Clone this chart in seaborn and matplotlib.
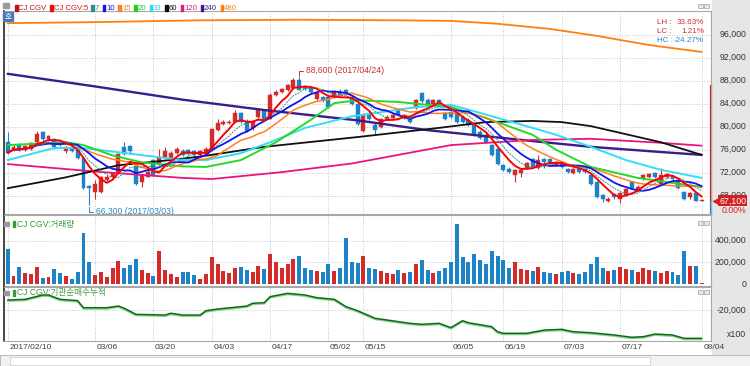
import numpy as np
import pandas as pd
import matplotlib
matplotlib.use("Agg")
import matplotlib.pyplot as plt
import seaborn as sns
from matplotlib.patches import Rectangle
from matplotlib.transforms import ScaledTranslation, offset_copy

# daily candles, 2017/02/10 .. 2017/08/04 (120 sessions)
days = list(range(120))
opens = [77400, 75900, 76800, 75900, 76200, 77400, 79100, 77800, 77800, 77100,
         75700, 76400, 75900, 74500, 69700, 68700, 68700, 70700, 71200, 72200,
         76400, 76600, 73200, 70300, 71300, 74200, 73500, 74700, 74500, 75400,
         75800, 75900, 75700, 75100, 75200, 76100, 79500, 80500, 80600, 80900,
         82300, 80900, 79700, 81700, 82900, 81400, 85500, 86100, 86400, 86700,
         88100, 86900, 86700, 84900, 85200, 85200, 85200, 86100, 86400, 85200,
         84000, 79200, 82300, 80300, 80000, 81300, 81600, 82900, 81600, 81700,
         83200, 85800, 84600, 84000, 84600, 82300, 82600, 82300, 81700, 81200,
         80300, 79100, 78600, 76800, 76200, 73300, 72700, 71600, 71900, 72900,
         74300, 72900, 74300, 74300, 73300, 73900, 72700, 72000, 72700, 72700,
         71600, 70400, 68100, 67100, 68300, 67400, 68200, 70400, 69000, 71000,
         71200, 72000, 70100, 71300, 71400, 70600, 68700, 67700, 68500, 67100]
highs = [79100, 76900, 77100, 76800, 77400, 79300, 79300, 78500, 78000, 77300,
         76600, 76600, 76000, 74600, 69900, 70700, 71400, 71600, 72200, 75500,
         77400, 76800, 73300, 71800, 72500, 74300, 76200, 76400, 75700, 76500,
         76100, 76200, 76000, 75900, 76400, 79800, 81400, 81100, 81100, 82900,
         82600, 81300, 81200, 83200, 83100, 85800, 86400, 86700, 87500, 88400,
         88600, 87300, 87000, 86100, 85400, 85500, 86300, 86500, 86600, 85500,
         84200, 82300, 82700, 80900, 81600, 82000, 82300, 83200, 82200, 82000,
         84800, 86000, 85000, 84900, 84900, 82600, 82900, 82500, 82000, 81500,
         80600, 79400, 78900, 77000, 76400, 73500, 73000, 72700, 72700, 73900,
         74500, 75100, 74600, 74500, 74100, 74100, 72900, 72800, 72900, 72900,
         71800, 70600, 68300, 67700, 68500, 68700, 69300, 70600, 69800, 71800,
         72000, 72200, 72800, 72000, 71600, 70800, 68900, 68600, 68700, 67300]
lows = [75200, 75700, 75800, 75700, 76000, 77200, 77600, 77600, 76200, 76600,
        75500, 75600, 74300, 69100, 66300, 67400, 68500, 70600, 71000, 72000,
        75000, 75500, 69800, 69600, 71200, 71400, 73300, 74500, 74300, 75300,
        74900, 75000, 74800, 74900, 75000, 76000, 79300, 80300, 80400, 80700,
        80700, 79100, 79500, 81500, 81000, 81300, 85300, 85900, 86200, 86500,
        86300, 86300, 85900, 84700, 84300, 83200, 85000, 85300, 85500, 83800,
        80300, 79000, 81200, 78600, 79800, 81100, 81400, 81800, 81400, 80700,
        83000, 84200, 83700, 83800, 83600, 81200, 81500, 80700, 80700, 80100,
        78400, 77900, 77200, 74900, 73400, 72300, 72000, 70400, 71300, 72700,
        72800, 72700, 72800, 73400, 73100, 72800, 72000, 71800, 72000, 72000,
        69900, 67600, 66900, 66900, 67500, 66700, 68000, 69100, 68800, 70800,
        71000, 71000, 69900, 71100, 70700, 69100, 67200, 67500, 67000, 67000]
closes = [75500, 76500, 76100, 76600, 77100, 78700, 77800, 78300, 76400, 76800,
          76400, 75800, 74500, 69300, 69300, 70000, 71300, 71300, 72000, 75200,
          75200, 75700, 70000, 71600, 72200, 71600, 74800, 75800, 75400, 76200,
          75100, 75200, 75100, 75700, 76100, 79600, 80700, 80900, 80900, 82300,
          80900, 79300, 80900, 82900, 81200, 85600, 86100, 86500, 87300, 88200,
          86400, 86500, 86100, 85900, 84600, 83500, 86100, 85500, 85800, 84000,
          80500, 82000, 81400, 79400, 81400, 81700, 82000, 82000, 82000, 80900,
          84600, 84400, 83900, 84600, 83800, 81400, 81700, 80900, 80900, 80300,
          78600, 78100, 77400, 75100, 73600, 72500, 72200, 72500, 72500, 73700,
          73000, 74200, 73900, 73600, 73900, 73000, 72200, 72600, 72200, 72200,
          70100, 67800, 67500, 67500, 67700, 68400, 69100, 69300, 69600, 71600,
          71800, 71200, 71600, 71800, 70900, 69300, 67400, 68400, 67100, 67100]
# volume in thousands of shares
vol_k = [322, 77, 154, 101, 92, 154, 55, 68, 140, 101,
         77, 46, 108, 467, 206, 83, 108, 62, 145, 209,
         150, 172, 234, 132, 101, 71, 307, 132, 92, 68,
         108, 108, 83, 46, 90, 250, 180, 120, 100, 150,
         160, 130, 110, 170, 140, 280, 200, 150, 180, 230,
         260, 150, 130, 120, 110, 180, 120, 150, 420, 200,
         190, 260, 150, 140, 120, 100, 90, 130, 100, 110,
         180, 220, 130, 100, 120, 150, 200, 550, 250, 200,
         280, 220, 180, 300, 260, 220, 150, 200, 140, 130,
         120, 160, 110, 100, 90, 110, 120, 100, 90, 110,
         180, 250, 150, 120, 130, 160, 140, 130, 110, 150,
         130, 120, 105, 123, 108, 80, 306, 168, 165, 5]

tick_days = [0, 15, 25, 35, 45, 55, 61, 76, 85, 95, 105, 119]
tick_labels = ["2017/02/10", "03/06", "03/20", "04/03", "04/17", "05/02",
               "05/15", "06/05", "06/19", "07/03", "07/17", "08/04"]

# longer moving averages need history before the window
ma20_days = [0, 10, 13, 18, 23, 30, 34, 40, 46, 52, 56, 60, 67, 76, 82, 90, 94, 100, 108, 119]
ma20_vals = [76800, 77300, 76800, 75000, 73800, 73100, 73000, 74200, 77300, 81200,
             84100, 84600, 84300, 83400, 81500, 78600, 76000, 73000, 71100, 69500]
ma33_days = [0, 8, 13, 21, 30, 34, 40, 46, 51, 59, 70, 76, 81, 90, 94, 100, 106, 112, 119]
ma33_vals = [74200, 76300, 76300, 75300, 74200, 74200, 75400, 77700, 79800, 81800,
             83400, 83800, 82400, 79800, 78600, 76500, 74200, 72500, 71100]
ma60_days = [0, 10, 19, 26, 33, 44, 60, 74, 82, 90, 95, 100, 112, 119]
ma60_vals = [69300, 71200, 73300, 74000, 74800, 76500, 78200, 79800, 80800, 81000,
             80800, 80100, 77300, 75100]
ma120_days = [0, 15, 30, 35, 47, 59, 76, 90, 100, 112, 119]
ma120_vals = [73500, 72200, 71100, 70900, 72100, 73600, 76800, 77700, 77900, 77200, 76700]
ma240_days = [0, 15, 30, 44, 60, 72, 90, 100, 112, 119]
ma240_vals = [89200, 87000, 84700, 82900, 81100, 79400, 77500, 76500, 75600, 75100]
ma480_days = [0, 16, 33, 50, 67, 76, 84, 93, 101, 110, 119]
ma480_vals = [98000, 98200, 98500, 98600, 98500, 98400, 97900, 97000, 95800, 94200, 93000]

# institutional net buying, cumulative (x100 shares)
inst_days = [0, 3, 6, 7, 9, 12, 13, 17, 19, 20, 22, 27, 28, 30, 33, 34, 36, 41, 42, 44,
             45, 48, 51, 53, 56, 58, 60, 63, 65, 69, 71, 74, 76, 78, 79, 83, 84, 85, 89, 92,
             95, 97, 100, 104, 107, 109, 111, 114, 116, 119]
inst_vals = [-11700, -11100, -7500, -7500, -11100, -12200, -18100, -18100, -16700, -18600,
             -23600, -24200, -22700, -24200, -24200, -20600, -19200, -16700, -14400, -13900,
             -8900, -6100, -7500, -9700, -11100, -17200, -20600, -26900, -28300, -31100,
             -31900, -31100, -34700, -28900, -30600, -33900, -38100, -39400, -39400, -36700,
             -36100, -38100, -38900, -40800, -42700, -42200, -40000, -40800, -43600, -43600]

hi_date = "2017/04/24"
lo_date = "2017/03/03"
band_top = 87300
price_ticks = [68000, 72000, 76000, 80000, 84000, 88000, 92000, 96000]
vol_ticks = [0, 200000, 400000]

up_color = "#D42A2A"
down_color = "#1C84C6"
legend_labels = ["CJ CGV", "CJ CGV:5", "7", "10", "15", "20", "33", "60", "120", "240", "480"]
legend_colors = ["#C0141E", "#E01010", "#2F8F8F", "#1414E6", "#FF7F27", "#22D022",
                 "#2ED8EE", "#111111", "#E8157F", "#3A1C8C", "#FF7F0E"]

sns.set_theme(style="white")
plt.rcParams["font.family"] = ["Liberation Sans", "Noto Sans CJK KR"]

W, H = 750, 366
fig = plt.figure(figsize=(7.5, 3.66), dpi=100)

def rect(x0, y0, x1, y1):
    return [x0 / W, 1 - y1 / H, (x1 - x0) / W, (y1 - y0) / H]

fig.patches.append(Rectangle((712 / W, 11 / H), 38 / W, 355 / H,
                             transform=fig.transFigure, color="#E6E6E6", zorder=-2))

ax = fig.add_axes(rect(4, 11, 711, 214))
axv = fig.add_axes(rect(4, 215, 711, 286), sharex=ax)
axi = fig.add_axes(rect(4, 287, 711, 341), sharex=ax)

df = pd.DataFrame({"day": days, "open": opens, "high": highs, "low": lows,
                   "close": closes, "vol": np.array(vol_k) * 1000})
df["color"] = np.where(df["close"] >= df["open"], up_color, down_color)

grid_kw = dict(color="#B4B4B4", lw=0.6, ls=(0, (1, 2)), zorder=0)
for a in (ax, axv, axi):
    for d in tick_days:
        a.axvline(d, **grid_kw)
    for s in ("top", "right", "bottom"):
        a.spines[s].set_color("#A8A8A8")
        a.spines[s].set_linewidth(0.8)
    a.spines["left"].set_color("#303030")
    a.tick_params(left=False, right=False, bottom=False, labelleft=False, labelbottom=False)
for v in price_ticks:
    ax.axhline(v, **grid_kw)
for v in vol_ticks[1:]:
    axv.axhline(v, **grid_kw)
axi.axhline(-20000, **grid_kw)

# candles
body_lo = df[["open", "close"]].min(axis=1)
body_h = (df["close"] - df["open"]).abs().clip(lower=150)
ax.vlines(df["day"], df["low"], df["high"], colors=df["color"], lw=0.8, zorder=2)
ax.bar(df["day"], body_h, bottom=body_lo, width=0.68, color=df["color"],
       edgecolor=df["color"], lw=0.3, zorder=3)

# moving averages
for d_, v_, col, lw in [(ma480_days, ma480_vals, "#FF7F0E", 1.3),
                        (ma240_days, ma240_vals, "#3A1C8C", 1.7),
                        (ma120_days, ma120_vals, "#E8157F", 1.3),
                        (ma60_days, ma60_vals, "#111111", 1.3),
                        (ma33_days, ma33_vals, "#35DDF2", 1.4),
                        (ma20_days, ma20_vals, "#25D925", 1.4)]:
    sns.lineplot(x=d_, y=v_, color=col, lw=lw, ax=ax, zorder=4)
for n, col, lw, ls in [(15, "#FF7F27", 1.1, "-"), (10, "#1414E6", 1.3, "-"),
                       (7, "#2F8F8F", 0.7, (0, (2, 1))), (5, "#FF0000", 1.4, "-")]:
    ma = df["close"].rolling(n, min_periods=1).mean()
    sns.lineplot(x=df["day"], y=ma, color=col, lw=lw, linestyle=ls, ax=ax, zorder=5)

ax.set_xlim(-0.63, 120.6)
ax.set_ylim(64820, 100120)

hi_i = int(np.argmax(highs))
lo_i = int(np.argmin(lows))
ax.annotate(f"{highs[hi_i]:,} ({hi_date})", xy=(hi_i, highs[hi_i]), xytext=(5, 4.5),
            textcoords="offset points", color="#D03030", fontsize=6.2, va="center",
            arrowprops=dict(arrowstyle="-", color="#D03030", lw=0.7, shrinkA=0, shrinkB=1,
                            connectionstyle="angle,angleA=0,angleB=90,rad=0"), zorder=8)
ax.annotate(f"{lows[lo_i]:,} ({lo_date})", xy=(lo_i, lows[lo_i]), xytext=(5, -4.5),
            textcoords="offset points", color="#2E86C1", fontsize=6.2, va="center",
            arrowprops=dict(arrowstyle="-", color="#2E86C1", lw=0.7, shrinkA=0, shrinkB=1,
                            connectionstyle="angle,angleA=0,angleB=90,rad=0"), zorder=8)

ytr = ax.get_yaxis_transform()
lab_x = (746 - 4) / 707
for v in price_ticks:
    ax.text(lab_x, v, f"{v:,}", transform=ytr, ha="right", va="center",
            fontsize=6.3, color="#333333", clip_on=False)

last = closes[-1]
chg = (closes[-1] / closes[-2] - 1) * 100
ax.plot([1.0007, 1.0007], [band_top, last], color="#D42020", lw=1.6,
        transform=ytr, clip_on=False, solid_capstyle="butt")
ax.plot([1.0007, 1.0007], [last, 64820], color="#1C84C6", lw=1.6,
        transform=ytr, clip_on=False, solid_capstyle="butt")
ax.plot([1.0075], [last], marker="<", ms=4.5, color="#D42020", transform=ytr, clip_on=False)
ax.text(lab_x, last, f"{last:,}", transform=ytr, ha="right", va="center", fontsize=6.3,
        color="white", clip_on=False, zorder=9,
        bbox=dict(boxstyle="square,pad=0.12", fc="#D42020", ec="none"))
ax.annotate(f"{chg:.2f}%", xy=(lab_x, last), xycoords=ytr, xytext=(0, -7),
            textcoords="offset points", ha="right", va="center", fontsize=6.3,
            color="#D42020", annotation_clip=False)

lh = max(highs) / min(lows) * 100 - 100
lc = last / min(lows) * 100 - 100
hc = last / max(highs) * 100 - 100
for k, (name, val, col) in enumerate([("LH", lh, "#D03030"), ("LC", lc, "#D03030"),
                                       ("HC", hc, "#2E86C1")]):
    yy = 1 - (23 + 8.5 * k) / H
    fig.text(657 / W, yy, f"{name} :", color=col, fontsize=5.8, va="center")
    fig.text(704 / W, yy, f"{val:.2f}%", color=col, fontsize=5.8, va="center", ha="right")

# volume
axv.bar(df["day"], df["vol"], width=0.68, color=df["color"], lw=0, zorder=2)
axv.set_ylim(-18400, 636000)
vtr = axv.get_yaxis_transform()
for v in vol_ticks:
    axv.text(lab_x, v, f"{v:,}", transform=vtr, ha="right", va="center",
             fontsize=6.3, color="#333333", clip_on=False)

# institutional cumulative net buying
shadow = offset_copy(axi.transData, fig=fig, x=0, y=-1.2, units="dots")
axi.plot(inst_days, inst_vals, color="#8ED08E", lw=1.1, transform=shadow)
sns.lineplot(x=inst_days, y=inst_vals, color="#0B6A12", lw=1.1, ax=axi, zorder=3)
axi.set_ylim(-45800, -830)
itr = axi.get_yaxis_transform()
axi.text(lab_x, -20000, "-20,000", transform=itr, ha="right", va="center",
         fontsize=6.3, color="#333333", clip_on=False)
axi.text(lab_x, -40000, "x100", transform=itr, ha="right", va="center",
         fontsize=6.3, color="#333333", clip_on=False)

for a in (ax, axv, axi):
    a.set_xlabel("")
    a.set_ylabel("")
    a.set_xlim(-0.63, 120.6)

axi.set_xticks(tick_days)
axi.set_xticklabels(tick_labels)
axi.tick_params(axis="x", labelbottom=True, length=0, pad=2.5, labelsize=6,
                labelcolor="#404040")
for lbl in axi.get_xticklabels():
    lbl.set_ha("left")
    lbl.set_transform(lbl.get_transform() + ScaledTranslation(1.5 / 100, 0, fig.dpi_scale_trans))

# header legend row, laid out left to right
renderer = fig.canvas.get_renderer()
fig.patches.append(Rectangle((3 / W, 1 - 8 / H), 6 / W, 5 / H, transform=fig.transFigure,
                             color="#9A9A9A"))
x = 15.0
for label, col in zip(legend_labels, legend_colors):
    fig.patches.append(Rectangle((x / W, 1 - 11 / H), 2.5 / W, 6 / H,
                                 transform=fig.transFigure, color=col))
    t = fig.text((x + 3.5) / W, 1 - 8.3 / H, label, color=col, fontsize=5.6, va="center")
    x += 3.5 + t.get_window_extent(renderer).width + 3.5
fig.patches.append(Rectangle((3 / W, 1 - 21 / H), 10 / W, 9 / H, transform=fig.transFigure,
                             color="#4A78B8", zorder=10))
fig.text(8 / W, 1 - 16.5 / H, "호", color="white", fontsize=5.5, ha="center", va="center",
         zorder=11, family=["Noto Sans CJK KR"])

for ypx, title in [(224, "CJ CGV:거래량"), (293, "CJ CGV:기관순매수누적")]:
    fig.patches.append(Rectangle((4 / W, 1 - (ypx + 2) / H), 5 / W, 4 / H,
                                 transform=fig.transFigure, color="#9A9A9A", zorder=10))
    fig.patches.append(Rectangle((13 / W, 1 - (ypx + 3) / H), 2 / W, 6 / H,
                                 transform=fig.transFigure, color="#3A9A3A", zorder=10))
    fig.text(17 / W, 1 - ypx / H, title, color="#3A9A3A", fontsize=6.2, va="center",
             zorder=10, family=["Liberation Sans", "Noto Sans CJK KR"])
    for xx in (698, 704):
        fig.patches.append(Rectangle((xx / W, 1 - (ypx + 1) / H), 4.5 / W, 4.5 / H,
                                     transform=fig.transFigure, fc="#E8E8E8", ec="#A0A0A0",
                                     lw=0.5, zorder=10))
for xx in (698, 704):
    fig.patches.append(Rectangle((xx / W, 1 - 8 / H), 4.5 / W, 4.5 / H,
                                 transform=fig.transFigure, fc="#E8E8E8", ec="#A0A0A0", lw=0.5))

# scroll bar strip
fig.patches.append(Rectangle((0, 0), 1, 11 / H, transform=fig.transFigure,
                             fc="#F2F2F2", ec="#B0B0B0", lw=0.6))
fig.patches.append(Rectangle((10 / W, 1.5 / H), 640 / W, 8 / H, transform=fig.transFigure,
                             fc="white", ec="#C8C8C8", lw=0.5))

fig.savefig("out.png", dpi=100)
